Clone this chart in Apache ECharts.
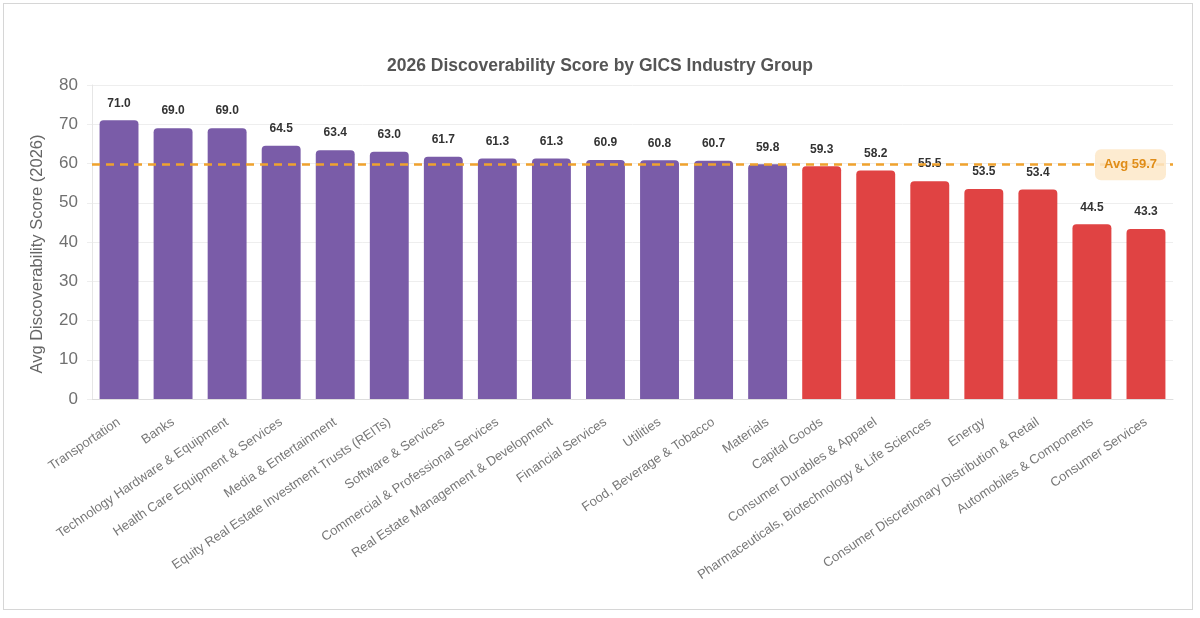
<!DOCTYPE html>
<html>
<head>
<meta charset="utf-8">
<script src="https://cdn.jsdelivr.net/npm/echarts@6/dist/echarts.min.js"></script>
<style>
html,body{margin:0;padding:0;background:#fff;}
#frame{position:absolute;left:3px;top:3px;width:1190px;height:607px;border:1px solid #d6d6d6;box-sizing:border-box;}
#chart{position:absolute;left:0;top:0;width:1200px;height:618px;}
</style>
</head>
<body>
<div id="frame"></div>
<div id="chart"></div>
<script>
const categories = ["Transportation","Banks","Technology Hardware & Equipment","Health Care Equipment & Services","Media & Entertainment","Equity Real Estate Investment Trusts (REITs)","Software & Services","Commercial & Professional Services","Real Estate Management & Development","Financial Services","Utilities","Food, Beverage & Tobacco","Materials","Capital Goods","Consumer Durables & Apparel","Pharmaceuticals, Biotechnology & Life Sciences","Energy","Consumer Discretionary Distribution & Retail","Automobiles & Components","Consumer Services"];
const scores = [71.0,69.0,69.0,64.5,63.4,63.0,61.7,61.3,61.3,60.9,60.8,60.7,59.8,59.3,58.2,55.5,53.5,53.4,44.5,43.3];
const average = 59.7;
const yTicks = [0,10,20,30,40,50,60,70,80];

const purple = '#7a5ca8', red = '#e04343';
const FF = 'Liberation Sans, Arial, sans-serif';
const chart = echarts.init(document.getElementById('chart'));
chart.setOption({
  animation:false,
  title:{text:'2026 Discoverability Score by GICS Industry Group',left:'center',top:52,
    textStyle:{fontSize:17.5,fontWeight:'bold',color:'#555',fontFamily:FF}},
  grid:{left:92,right:27,top:85,bottom:219},
  xAxis:{type:'category',data:categories,
    axisLine:{lineStyle:{color:'#ddd'}},axisTick:{show:false},
    axisLabel:{interval:0,rotate:34,color:'#777',fontSize:13,margin:22,fontFamily:FF}},
  yAxis:{type:'value',min:yTicks[0],max:yTicks[yTicks.length-1],interval:10,
    name:'Avg Discoverability Score (2026)',nameLocation:'middle',nameGap:46,
    nameTextStyle:{color:'#666',fontSize:16.5,fontFamily:FF,padding:[0,24,0,0]},
    axisLabel:{color:'#707070',fontSize:17,margin:14,fontFamily:FF},
    axisTick:{show:true,length:5,lineStyle:{color:'#eee'}},
    splitLine:{lineStyle:{color:'#eee'}},axisLine:{show:true,lineStyle:{color:'#e6e6e6'}}},
  series:[{type:'bar',barCategoryGap:'28%',
    data:scores.map(v=>({value:v,itemStyle:{color:v>=average?purple:red,borderRadius:[4,4,0,0]}})),
    label:{show:true,position:'top',distance:11,formatter:p=>p.value.toFixed(1),
      color:'#333',fontSize:12,fontWeight:'bold',fontFamily:FF},
    markLine:{symbol:'none',silent:true,
      lineStyle:{color:'#f0a22e',type:[8,6],width:2.5},
      label:{position:'insideEnd',distance:-8,offset:[-15,0],formatter:'Avg '+average.toFixed(1),
        color:'#e08d18',fontWeight:'bold',fontSize:13,backgroundColor:'rgba(253,232,200,0.85)',
        padding:[9,9],borderRadius:6,fontFamily:FF},
      data:[{yAxis:average}]}
  }]
});
</script>
</body>
</html>
